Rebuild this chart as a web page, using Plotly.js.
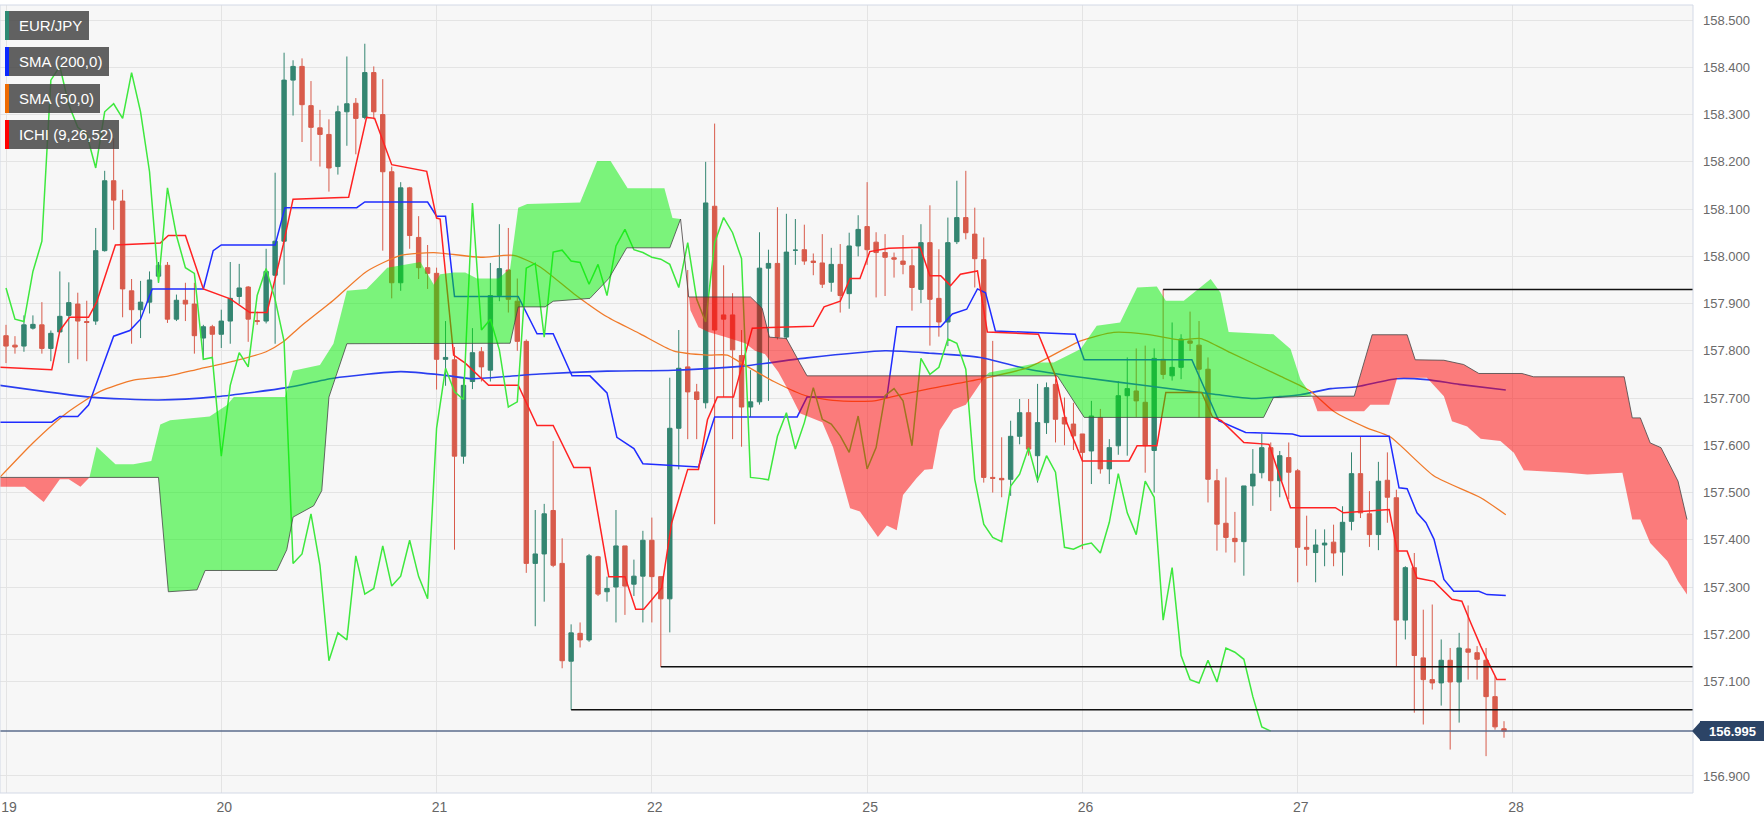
<!DOCTYPE html>
<html><head><meta charset="utf-8">
<script src="https://cdn.plot.ly/plotly-3.0.1.min.js"></script>
<style>html,body{margin:0;padding:0;background:#fff;}#chart{width:1764px;height:824px;}</style>
</head><body><div id="chart"></div>
<script>
// ---------------- data ----------------
const open = [
157.832,157.812,157.810,157.848,157.855,157.805,157.840,157.875,157.899,157.862,
157.863,158.012,158.160,158.117,157.927,157.887,157.903,157.958,157.981,157.867,
157.907,157.899,157.827,157.851,157.835,157.863,157.915,157.935,157.864,157.863,
157.960,158.032,158.373,158.402,158.319,158.272,158.258,158.190,158.306,158.324,
158.294,158.389,158.300,158.179,157.944,158.145,158.040,157.976,157.964,157.782,
157.781,157.577,157.735,157.798,157.759,157.917,157.971,157.905,157.820,157.350,
157.370,157.462,157.350,157.143,157.202,157.188,157.364,157.290,157.300,157.387,
157.306,157.323,157.399,157.322,157.275,157.636,157.766,157.713,157.690,158.106,
157.876,157.876,157.790,157.681,157.692,157.975,157.985,157.829,158.013,158.014,
157.990,157.986,157.945,157.983,157.921,158.022,158.063,158.030,158.008,157.997,
157.990,157.980,157.930,158.029,157.911,157.861,158.031,158.082,158.047,157.993,
157.532,157.530,157.528,157.619,157.669,157.578,157.648,157.729,157.659,157.645,
157.624,157.588,157.659,157.550,157.599,157.705,157.715,157.691,157.589,157.782,
157.747,157.765,157.821,157.812,157.761,157.525,157.435,157.403,157.396,157.514,
157.542,157.595,157.525,157.574,157.546,157.384,157.373,157.389,157.395,157.374,
157.439,157.540,157.455,157.411,157.526,157.489,157.230,157.341,157.150,157.104,
157.097,157.145,157.099,157.169,157.161,157.145,157.068,157.000];
const high = [
157.855,157.831,157.875,157.875,157.903,157.843,157.968,157.945,157.923,157.906,
158.060,158.181,158.250,158.141,157.952,157.948,157.968,157.988,157.988,157.919,
157.944,157.944,157.855,157.855,157.887,157.988,157.984,157.937,157.883,158.016,
158.177,158.431,158.415,158.419,158.371,158.310,158.290,158.319,158.423,158.335,
158.450,158.402,158.375,158.190,158.157,158.147,158.085,158.024,157.976,157.863,
157.808,157.743,157.848,157.808,157.986,158.068,158.060,157.953,157.824,157.463,
157.476,157.609,157.403,157.221,157.225,157.370,157.366,157.322,157.463,157.387,
157.358,157.419,157.447,157.322,157.743,157.844,157.971,157.730,158.200,158.281,
157.981,157.922,157.844,157.759,158.051,158.014,158.104,158.090,158.079,158.067,
158.006,158.047,158.018,158.026,158.050,158.087,158.157,158.051,158.047,158.008,
158.045,158.015,158.068,158.108,158.015,158.082,158.160,158.181,158.103,158.040,
157.821,157.617,157.652,157.698,157.698,157.730,157.733,157.740,157.701,157.690,
157.624,157.694,157.677,157.613,157.736,157.786,157.805,157.811,157.805,157.930,
157.860,157.835,157.883,157.863,157.786,157.550,157.532,157.459,157.514,157.592,
157.624,157.606,157.588,157.606,157.550,157.451,157.422,157.422,157.432,157.471,
157.585,157.619,157.503,157.565,157.585,157.506,157.344,157.372,157.252,157.263,
157.189,157.171,157.203,157.261,157.175,157.171,157.111,157.016];
const low = [
157.774,157.794,157.798,157.845,157.794,157.778,157.839,157.774,157.782,157.778,
157.855,158.010,158.056,157.871,157.815,157.827,157.879,157.944,157.859,157.863,
157.863,157.794,157.782,157.782,157.806,157.815,157.899,157.819,157.855,157.858,
157.815,157.940,158.298,158.242,158.202,158.190,158.137,158.173,158.234,158.216,
158.290,158.290,158.012,157.911,157.927,158.016,157.952,157.931,157.718,157.726,
157.379,157.561,157.719,157.735,157.735,157.905,157.881,157.800,157.330,157.217,
157.269,157.342,157.128,157.040,157.172,157.184,157.281,157.269,157.225,157.241,
157.281,157.225,157.225,157.131,157.204,157.549,157.613,157.613,157.678,157.433,
157.702,157.613,157.597,157.660,157.686,157.694,157.824,157.824,157.982,157.982,
157.960,157.933,157.925,157.881,157.889,158.000,157.982,157.913,157.916,157.955,
157.962,157.885,157.901,157.811,157.830,157.810,158.026,158.036,157.934,157.521,
157.500,157.490,157.493,157.602,157.578,157.521,157.624,157.606,157.600,157.590,
157.380,157.518,157.540,157.518,157.580,157.578,157.660,157.542,157.500,157.740,
157.737,157.740,157.800,157.659,157.479,157.377,157.373,157.352,157.324,157.472,
157.530,157.461,157.490,157.486,157.310,157.345,157.310,157.344,157.344,157.324,
157.420,157.446,157.385,157.378,157.436,157.132,157.189,157.034,157.009,157.083,
157.049,156.956,157.013,157.104,157.104,156.942,156.998,156.981];
const close = [
157.810,157.808,157.855,157.856,157.805,157.837,157.873,157.902,157.863,157.860,
158.012,158.160,158.119,157.931,157.887,157.903,157.950,157.981,157.867,157.907,
157.899,157.832,157.851,157.835,157.863,157.911,157.933,157.867,157.862,157.968,
158.032,158.373,158.402,158.321,158.273,158.258,158.187,158.306,158.323,158.292,
158.389,158.306,158.179,157.944,158.145,158.044,157.976,157.964,157.782,157.786,
157.577,157.727,157.796,157.766,157.917,157.974,157.909,157.820,157.350,157.370,
157.455,157.346,157.144,157.203,157.188,157.366,157.285,157.297,157.387,157.302,
157.323,157.399,157.322,157.275,157.636,157.763,157.713,157.697,158.113,157.844,
157.867,157.802,157.681,157.692,157.975,157.985,157.829,158.009,158.013,157.990,
157.987,157.941,157.983,157.917,158.022,158.057,158.014,158.008,157.998,157.994,
157.983,157.934,158.029,157.909,157.861,158.029,158.082,158.050,157.995,157.532,
157.530,157.527,157.619,157.669,157.592,157.648,157.722,157.655,157.645,157.620,
157.585,157.662,157.550,157.595,157.705,157.720,157.694,157.599,157.784,157.750,
157.765,157.825,157.816,157.761,157.528,157.433,157.405,157.396,157.514,157.539,
157.595,157.525,157.578,157.543,157.384,157.380,157.389,157.393,157.372,157.437,
157.540,157.457,157.411,157.524,157.490,157.230,157.341,157.155,157.104,157.097,
157.145,157.099,157.171,157.162,157.147,157.068,157.004,156.995];

const dayTicks  = [0,24,48,72,96,120,144,168];
const dayLabels = ['19','20','21','22','25','26','27','28'];
const priceTicks  = [158.5,158.4,158.3,158.2,158.1,158.0,157.9,157.8,157.7,157.6,157.5,157.4,157.3,157.2,157.1,156.9];
const priceLabels = ['158.500','158.400','158.300','158.200','158.100','158.000','157.900','157.800','157.700','157.600','157.500','157.400','157.300','157.200','157.100','156.900'];

const sma200X = [-0.7,9.4,17,23.5,31.3,36.5,44,49,52,59.5,67,74.4,81.9,89.3,98,103,108.6,114,119.8,127.2,134.7,139,142,144.3,147.7,150.6,155,158.4,162,167.2];
const sma200Y = [157.727,157.702,157.696,157.703,157.722,157.742,157.756,157.748,157.741,157.751,157.757,157.759,157.767,157.785,157.800,157.795,157.786,157.761,157.744,157.726,157.708,157.699,157.703,157.707,157.720,157.724,157.741,157.739,157.729,157.717];

const sma50X = [-0.7,3,6.8,10.5,14.2,17.9,21.6,25.4,29,30.9,32.8,36.5,40.2,44,47.7,52.9,56.6,59.5,63.3,67,70.7,74.4,78.2,80.4,81.9,85.6,89.3,93,96.8,98.6,103,108.6,114,119.8,123.5,127.2,130.9,133.2,136.5,142,145.4,148,151.7,154.3,159.2,164.4,167.2];
const sma50Y = [157.532,157.605,157.669,157.714,157.738,157.746,157.762,157.778,157.798,157.819,157.851,157.907,157.968,158.002,158.008,157.998,158.002,157.978,157.921,157.872,157.836,157.800,157.791,157.791,157.775,157.735,157.704,157.694,157.694,157.702,157.720,157.740,157.765,157.821,157.839,157.835,157.823,157.826,157.796,157.747,157.715,157.672,157.637,157.618,157.535,157.489,157.453];

const kijunX = [-0.7,5.1,6,8,9.2,12,13.8,15,16.3,22,23.1,24,30,31.1,39.1,40,47,48,49,50,57.1,59.2,61,63.1,65.1,67,68.1,70,71,77.2,79,88.2,89.3,98.2,99.3,104.2,105.5,107.1,108.3,109.2,110.3,119.2,120.2,132.2,135.2,138.2,143.4,144.3,154.2,155.3,156.2,157.3,158.3,159.2,160.3,161.4,164.2,165.1,167.2];
const kijunY = [157.649,157.649,157.661,157.661,157.685,157.831,157.843,157.867,157.931,157.931,158.012,158.024,158.024,158.103,158.103,158.115,158.115,158.085,158.085,157.915,157.915,157.836,157.836,157.747,157.747,157.711,157.617,157.593,157.561,157.554,157.660,157.660,157.702,157.702,157.851,157.851,157.878,157.888,157.931,157.923,157.842,157.835,157.781,157.781,157.652,157.627,157.624,157.619,157.619,157.510,157.508,157.457,157.436,157.401,157.316,157.291,157.291,157.284,157.282];

const tenkanX = [-0.7,5.1,6,7.1,9.2,10.1,12.2,17.2,18.1,20,22,25,27.2,29.1,30.9,32,38.2,39.3,40.2,41.1,43,46.9,48,48.4,49.9,51.2,53.8,57.1,59.2,61,63.3,65.1,67.2,69,70.2,71.1,73.1,74.2,76,77.2,78.2,79.3,81.1,83.2,90,91.2,93,94.1,95.2,96.3,98.4,101.9,103,104.2,105.3,106.4,108.3,109.4,115.1,117,118.1,120,125.2,126.1,128.3,129.3,133.3,134.5,135.5,138,140.8,143.2,148.2,149.1,154.2,155.1,156.2,157.3,159.2,161.2,162.3,163.3,164.4,165.3,166.2,167.2];
const tenkanY = [157.765,157.760,157.843,157.871,157.871,157.903,158.024,158.028,158.044,158.044,157.931,157.910,157.881,157.881,158.024,158.121,158.125,158.222,158.294,158.292,158.194,158.180,158.081,158.079,157.791,157.774,157.727,157.727,157.642,157.642,157.553,157.553,157.322,157.322,157.253,157.253,157.298,157.435,157.549,157.549,157.654,157.702,157.702,157.848,157.852,157.893,157.905,157.953,157.953,158.010,158.017,158.019,157.959,157.959,157.938,157.962,157.969,157.840,157.835,157.747,157.655,157.567,157.567,157.599,157.599,157.712,157.712,157.660,157.652,157.606,157.602,157.468,157.468,157.457,157.464,157.376,157.376,157.319,157.312,157.274,157.270,157.224,157.175,157.139,157.104,157.104];

const spanAX = [-0.7,2.1,4.2,6,7,8.3,9.3,10.1,12.2,14.2,16.2,17.2,18.3,22.7,24.6,25.4,31.1,32,35,36.5,38,40.2,41.3,42.5,46.2,47.7,48.4,49.9,51.2,52.5,54.9,56.2,57.1,58.1,64,65.9,67.4,69.3,73.4,74.3,75.2,76.3,77.2,78.3,80.2,82.4,83.5,84.6,86.1,87.2,88.5,91,92.2,94.1,95.2,97.2,98.2,99.3,100,101.5,102.4,103.3,104.1,105.6,107,108.9,109.2,109.6,115.3,116.8,119.8,121.6,124.2,126.1,128.3,129.3,131.3,134.3,135.4,136.3,141.3,143.2,144.3,145.6,146.2,151.4,152.1,154.2,155.1,158.4,160.3,161.2,162.9,164.4,166.6,168.1,169.2,174.1,176.3,180.2,181.3,182.2,183.3,185.2,186.4,187.4];
const spanAY = [157.512,157.512,157.480,157.528,157.528,157.512,157.532,157.597,157.560,157.560,157.567,157.644,157.653,157.661,157.685,157.702,157.702,157.758,157.770,157.815,157.927,157.931,157.952,157.976,157.988,157.940,157.962,157.966,157.966,157.953,157.953,157.974,158.103,158.111,158.114,158.202,158.202,158.144,158.144,158.081,158.079,157.886,157.850,157.840,157.829,157.816,157.800,157.793,157.755,157.717,157.668,157.649,157.596,157.467,157.460,157.406,157.430,157.420,157.495,157.530,157.548,157.550,157.632,157.675,157.686,157.738,157.747,157.754,157.775,157.775,157.804,157.853,157.860,157.934,157.936,157.906,157.906,157.952,157.923,157.840,157.835,157.804,157.740,157.704,157.672,157.672,157.686,157.686,157.743,157.743,157.704,157.651,157.640,157.614,157.609,157.584,157.547,157.542,157.538,157.542,157.443,157.443,157.393,157.355,157.312,157.284];

const spanBX = [-0.7,17,18.1,21.3,22.2,30.2,31.3,32,34.3,35.2,36,38,56.2,57.1,60.1,61,65.1,67.2,69.2,74,75.2,76.1,83,84.3,85.1,87,88.5,89.3,117.2,120.2,140.2,141.3,145.6,150.3,152.3,156.2,157.1,160.3,162.5,164.2,169,170.3,180.4,181.3,182.2,183.3,184.5,186.4,187.4];
const spanBY = [157.532,157.532,157.290,157.294,157.335,157.335,157.379,157.448,157.472,157.504,157.702,157.815,157.816,157.893,157.893,157.905,157.911,157.953,158.018,158.018,158.079,157.914,157.914,157.890,157.829,157.826,157.774,157.747,157.747,157.659,157.659,157.701,157.704,157.704,157.834,157.834,157.781,157.780,157.771,157.752,157.752,157.745,157.745,157.658,157.658,157.605,157.595,157.524,157.443];

const cloudCross  = [-0.7, 9.3, 75.2, 109.2, 145.6, 187.4];
const cloudColors = ['rgba(255,0,0,0.5)','rgba(0,240,0,0.5)','rgba(255,0,0,0.5)','rgba(0,240,0,0.5)','rgba(255,0,0,0.5)'];

const levelValues = [157.93, 157.131, 157.04];
const levelStarts = [129, 73, 63];
const lastPrice = 156.995;
const lastPriceText = '156.995';

const legendNames  = ['EUR/JPY','SMA (200,0)','SMA (50,0)','ICHI (9,26,52)'];
const legendColors = ['#2e8b74','#0a28ff','#ee6a00','#ff0000'];

// ---------------- layout helpers ----------------
const W = 1764, H = 824, ML = 0, MR = 71, MT = 5, MB = 31;
const plotW = W - ML - MR, plotH = H - MT - MB;
const xRange = [-0.67, 188.07];
const yRange = [156.864, 158.532];
const xp = px => (px - ML) / plotW;
const yp = py => (H - MB - py) / plotH;

const idx = close.map((_, i) => i);
const chikouY = close.slice(26);
const chikouX = chikouY.map((_, i) => i);

const traces = [];
traces.push({
  type: 'candlestick', x: idx, open: open, high: high, low: low, close: close,
  increasing: {line: {color: '#348571', width: 1}, fillcolor: '#348571'},
  decreasing: {line: {color: '#d85b4b', width: 1}, fillcolor: '#d85b4b'},
  whiskerwidth: 0, hoverinfo: 'skip'
});
traces.push({type:'scatter', mode:'lines', x: sma200X, y: sma200Y, line:{color:'#2a3ef0', width:1.6, shape:'spline', smoothing:0.6}});
traces.push({type:'scatter', mode:'lines', x: sma50X, y: sma50Y, line:{color:'#f07a2a', width:1.3, shape:'spline', smoothing:0.6}});
traces.push({type:'scatter', mode:'lines', x: kijunX, y: kijunY, line:{color:'#1f2cff', width:1.5}});
traces.push({type:'scatter', mode:'lines', x: tenkanX, y: tenkanY, line:{color:'#ff2222', width:1.5}});
traces.push({type:'scatter', mode:'lines', x: chikouX, y: chikouY, line:{color:'#3ee83e', width:1.5}});

function inRange(xs, ys, a, b) {
  const ox = [], oy = [];
  xs.forEach((x, i) => { if (x >= a - 1e-9 && x <= b + 1e-9) { ox.push(x); oy.push(ys[i]); } });
  return [ox, oy];
}
for (let k = 0; k < cloudCross.length - 1; k++) {
  const [ax, ay] = inRange(spanAX, spanAY, cloudCross[k], cloudCross[k+1]);
  const [bx, by] = inRange(spanBX, spanBY, cloudCross[k], cloudCross[k+1]);
  traces.push({type:'scatter', mode:'lines', x: ax.concat(bx.slice().reverse()), y: ay.concat(by.slice().reverse()),
    fill:'toself', fillcolor: cloudColors[k], line:{width:0}, hoverinfo:'skip'});
}
traces.push({type:'scatter', mode:'lines', x: spanBX, y: spanBY, line:{color:'rgba(70,70,70,0.8)', width:1}});

const shapes = [];
levelValues.forEach((v, i) => {
  shapes.push({type:'line', xref:'x', yref:'y', x0: levelStarts[i], x1: xRange[1], y0: v, y1: v, line:{color:'#111', width:1.5}, layer:'above'});
});
shapes.push({type:'line', xref:'paper', yref:'y', x0: 0, x1: 1, y0: lastPrice, y1: lastPrice, line:{color:'#5b6d8c', width:1.5}, layer:'above'});
shapes.push({type:'rect', xref:'paper', yref:'paper', x0:0, x1:1, y0:0, y1:1, line:{color:'#d3d9e6', width:1}, layer:'above'});
const boxRight = [89, 109, 100, 119];
const boxTop = [11, 47, 84, 120];
const annotations = [];
legendNames.forEach((name, i) => {
  const t = boxTop[i], b = t + 29;
  shapes.push({type:'rect', xref:'paper', yref:'paper', x0: xp(5), x1: xp(boxRight[i]), y0: yp(b), y1: yp(t), fillcolor:'rgba(70,70,70,0.85)', line:{width:0}, layer:'above'});
  shapes.push({type:'rect', xref:'paper', yref:'paper', x0: xp(5), x1: xp(9), y0: yp(b), y1: yp(t), fillcolor: legendColors[i], line:{width:0}, layer:'above'});
  annotations.push({xref:'paper', yref:'paper', x: xp(17), y: yp(t + 14.5), xanchor:'left', yanchor:'middle', showarrow:false,
    text: name, font:{family:'Arial, Liberation Sans, sans-serif', size:15, color:'#ffffff'}});
});
const pyc = MT + (yRange[1] - lastPrice) / (yRange[1] - yRange[0]) * plotH;
shapes.push({type:'rect', xref:'paper', yref:'paper', x0: xp(1700), x1: xp(1764), y0: yp(pyc + 10), y1: yp(pyc - 10), fillcolor:'#2c4466', line:{width:0}, layer:'above'});
shapes.push({type:'path', xref:'paper', yref:'paper',
  path: `M ${xp(1692)} ${yp(pyc)} L ${xp(1701)} ${yp(pyc - 10)} L ${xp(1701)} ${yp(pyc + 10)} Z`,
  fillcolor:'#2c4466', line:{width:0}, layer:'above'});
annotations.push({xref:'paper', yref:'paper', x: xp(1733), y: yp(pyc), xanchor:'center', yanchor:'middle', showarrow:false,
  text: '<b>' + lastPriceText + '</b>', font:{family:'Arial, Liberation Sans, sans-serif', size:13, color:'#ffffff'}});

const layout = {
  width: W, height: H, margin: {l: ML, r: MR, t: MT, b: MB},
  paper_bgcolor: '#ffffff', plot_bgcolor: '#f7f7f7', showlegend: false, hovermode: false,
  xaxis: {range: xRange, tickvals: dayTicks, ticktext: dayLabels, showgrid: true, gridcolor: '#e4e4e4', gridwidth: 1,
    zeroline: false, showline: false, ticks: '', ticklabelstandoff: 4, ticklabeloverflow: 'allow', ticklabelshift: 3,
    tickfont: {family: 'Liberation Sans Narrow, Arial Narrow, Arial, sans-serif', size: 14, color: '#666'},
    rangeslider: {visible: false}, fixedrange: true},
  yaxis: {range: yRange, side: 'right', tickvals: priceTicks, ticktext: priceLabels, showgrid: true, gridcolor: '#e4e4e4',
    zeroline: false, showline: false, ticks: '', ticklabelstandoff: 9,
    tickfont: {family: 'Arial, Liberation Sans, sans-serif', size: 13, color: '#6a6a6a'}, fixedrange: true},
  shapes: shapes, annotations: annotations
};
Plotly.newPlot('chart', traces, layout, {staticPlot: true, displayModeBar: false});
</script>
</body></html>
